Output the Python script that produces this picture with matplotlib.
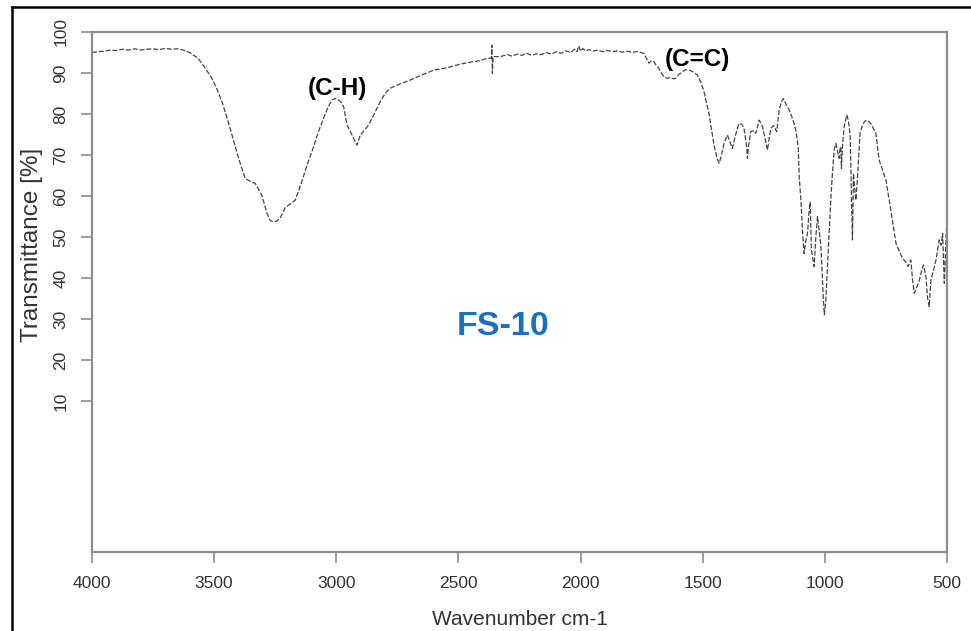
import matplotlib
matplotlib.use("Agg")
import matplotlib.pyplot as plt
from matplotlib.lines import Line2D

plt.rcParams['font.family'] = ['Liberation Sans', 'DejaVu Sans']

# FTIR spectrum of FS-10
wavenumber = [4000, 3975, 3950, 3925, 3900, 3875, 3850, 3825, 3800, 3775,
              3750, 3725, 3700, 3675, 3650, 3627, 3600, 3566, 3540, 3509,
              3488, 3468, 3447, 3427, 3400, 3373, 3350, 3332, 3305, 3284,
              3270, 3257, 3243, 3230, 3209, 3190, 3168, 3141, 3120, 3100,
              3073, 3052, 3035, 3018, 3005, 2990, 2980, 2970, 2956, 2936,
              2915, 2902, 2885, 2868, 2845, 2820, 2800, 2779, 2740, 2697,
              2650, 2601, 2570, 2533, 2490, 2437, 2410, 2383, 2366, 2363,
              2361, 2358, 2328, 2300, 2280, 2260, 2240, 2220, 2200, 2180,
              2160, 2140, 2120, 2100, 2080, 2060, 2040, 2025, 2015, 2007,
              2000, 1990, 1980, 1965, 1950, 1930, 1910, 1890, 1870, 1850,
              1830, 1810, 1790, 1768, 1741, 1720, 1710, 1700, 1690, 1679,
              1669, 1659, 1645, 1631, 1620, 1611, 1598, 1584, 1570, 1556,
              1540, 1522, 1508, 1495, 1474, 1454, 1440, 1433, 1425, 1413,
              1399, 1390, 1379, 1365, 1352, 1340, 1331, 1320, 1317, 1312,
              1303, 1290, 1283, 1275, 1269, 1262, 1255, 1245, 1235, 1228,
              1221, 1210, 1197, 1187, 1178, 1170, 1160, 1146, 1130, 1119,
              1109, 1105, 1098, 1090, 1085, 1078, 1071, 1065, 1060, 1055,
              1044, 1037, 1030, 1024, 1016, 1010, 1006, 1002, 996, 990,
              983, 975, 969, 962, 955, 948, 942, 938, 935, 932,
              928, 921, 915, 910, 904, 897, 893, 891, 887, 883,
              878, 873, 868, 864, 856, 845, 835, 825, 810, 791,
              778, 765, 750, 730, 709, 695, 682, 670, 659, 648,
              641, 634, 625, 613, 605, 596, 586, 580, 573, 566,
              555, 545, 532, 524, 518, 511, 505, 500, 500, 500]
transmittance = [95.0, 95.2, 95.3, 95.6, 95.5, 95.8, 95.6, 95.9, 95.6, 95.8,
                 95.9, 95.7, 96.0, 95.8, 95.9, 95.6, 95.0, 93.6, 91.5, 88.7,
                 86.0, 83.0, 79.0, 74.9, 69.2, 64.3, 63.5, 63.1, 60.2, 55.8,
                 54.0, 53.7, 53.9, 54.6, 57.2, 58.0, 59.0, 63.5, 67.5, 70.8,
                 75.7, 79.0, 81.5, 83.4, 83.8, 83.4, 82.8, 81.8, 77.3, 74.9,
                 72.4, 74.9, 76.0, 77.3, 80.0, 83.0, 85.0, 86.3, 87.3, 88.3,
                 89.5, 90.7, 91.0, 91.5, 92.2, 92.8, 93.0, 93.6, 93.6, 96.8,
                 89.9, 94.0, 94.0, 94.5, 94.1, 94.6, 94.3, 94.8, 94.3, 94.7,
                 94.5, 95.0, 94.6, 95.2, 94.8, 95.4, 95.0, 95.8, 95.2, 96.6,
                 95.3, 96.0, 95.4, 95.7, 95.3, 95.6, 95.2, 95.5, 95.2, 95.4,
                 95.1, 95.3, 95.1, 95.2, 94.8, 92.4, 93.0, 92.8, 91.8, 91.1,
                 90.0, 89.1, 88.7, 88.9, 88.6, 88.7, 89.6, 90.3, 90.8, 90.7,
                 90.3, 89.5, 87.8, 85.5, 80.0, 72.5, 69.0, 68.0, 69.5, 72.8,
                 74.9, 73.5, 71.6, 75.0, 77.7, 77.5, 76.5, 72.0, 69.2, 72.5,
                 75.7, 76.0, 75.3, 77.0, 78.5, 77.8, 76.9, 74.0, 71.2, 74.0,
                 76.5, 77.2, 75.7, 81.0, 83.0, 83.8, 82.5, 81.0, 78.5, 76.1,
                 72.0, 64.7, 59.0, 50.0, 46.0, 49.0, 50.9, 56.0, 58.5, 46.8,
                 42.8, 50.0, 55.0, 52.0, 47.6, 40.0, 34.6, 31.0, 34.6, 42.0,
                 50.9, 60.0, 65.5, 71.2, 72.8, 71.0, 69.2, 71.5, 72.0, 66.7,
                 72.0, 76.9, 78.5, 79.8, 78.5, 75.3, 66.0, 59.0, 49.3, 65.5,
                 62.0, 59.0, 63.0, 67.1, 75.3, 77.5, 78.3, 78.5, 77.5, 75.3,
                 68.8, 66.5, 63.9, 56.6, 48.5, 46.5, 44.8, 44.0, 42.8, 44.4,
                 39.5, 36.3, 37.5, 39.5, 41.5, 43.2, 40.3, 35.4, 33.0, 39.5,
                 42.0, 44.4, 49.3, 48.0, 50.9, 38.7, 48.0, 55.0, 37.0, -26.8]

x_ticks = [4000, 3500, 3000, 2500, 2000, 1500, 1000, 500]
y_ticks = [10, 20, 30, 40, 50, 60, 70, 80, 90, 100]

fig = plt.figure(figsize=(9.71, 6.31), dpi=100)
ax = fig.add_axes([92 / 971, 1 - 552 / 631, (947 - 92) / 971, (552 - 32) / 631])

ax.plot(wavenumber, transmittance, color='#444444', lw=0.9,
        linestyle=(0, (4, 1.5)))

ax.set_xlim(4000, 500)
ax.set_ylim(-26.8, 100)
ax.set_xticks(x_ticks)
ax.set_yticks(y_ticks)
ax.set_xticklabels([str(v) for v in x_ticks])
ax.set_yticklabels([str(v) for v in y_ticks], rotation=90, va='center')

for s in ax.spines.values():
    s.set_color('#8c8c8c')
    s.set_linewidth(1.6)
ax.tick_params(axis='both', direction='out', length=8, width=1.2,
               color='#8c8c8c', labelsize=12.5, labelcolor='#333333', pad=9)

ax.set_xlabel('Wavenumber cm-1', fontsize=15, color='#333333', labelpad=14)
ax.set_ylabel('Transmittance [%]', fontsize=17.5, color='#333333')
ax.yaxis.set_label_coords(-0.057, 0.59)

ax.text(2996, 86.3, '(C-H)', fontsize=17.5, fontweight='bold', color='black',
        ha='center', va='center')
ax.text(1521, 93.2, '(C=C)', fontsize=17.5, fontweight='bold', color='black',
        ha='center', va='center')
ax.text(2316, 28.3, 'FS-10', fontsize=24.5, fontweight='bold', color='#1b6fc0',
        ha='center', va='center')

# outer frame of the cropped figure (top and left only)
fig.add_artist(Line2D([12 / 971, 1], [1 - 7 / 631, 1 - 7 / 631],
                      color='black', lw=1.8, transform=fig.transFigure))
fig.add_artist(Line2D([12 / 971, 12 / 971], [0, 1 - 7 / 631],
                      color='black', lw=1.8, transform=fig.transFigure))

fig.savefig('out.png', dpi=100)
